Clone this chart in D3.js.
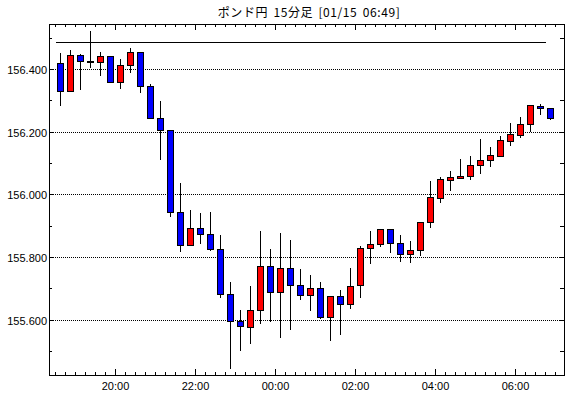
<!DOCTYPE html>
<html><head><meta charset="utf-8">
<script src="https://cdn.jsdelivr.net/npm/d3@7"></script>
<style>body{margin:0;background:#fff;}svg{display:block;}</style>
</head><body>
<svg id="c" width="570" height="398"></svg>
<script>
const title = "ポンド円 15分足 [01/15 06:49]";
const startTime = "2024-01-14T18:30:00";
const opens  = [156.420,156.330,156.446,156.424,156.423,156.442,156.359,156.413,156.455,156.346,
                156.244,156.206,155.945,155.839,155.893,155.874,155.826,155.683,155.597,155.578,
                155.632,155.772,155.689,155.764,155.712,155.680,155.702,155.608,155.677,155.651,
                155.712,155.830,155.842,155.888,155.846,155.811,155.823,155.913,155.989,156.047,
                156.052,156.059,156.094,156.110,156.122,156.171,156.190,156.225,156.283,156.276];
const highs  = [156.454,156.462,156.449,156.523,156.456,156.443,156.433,156.469,156.457,156.353,
                156.300,156.206,156.038,155.952,155.942,155.945,155.871,155.721,155.633,155.710,
                155.886,155.827,155.878,155.856,155.764,155.744,155.722,155.677,155.697,155.767,
                155.837,155.885,155.888,155.888,155.873,155.853,155.913,156.045,156.057,156.076,
                156.115,156.124,156.178,156.153,156.188,156.230,156.248,156.284,156.290,156.276];
const lows   = [156.285,156.327,156.336,156.406,156.380,156.359,156.339,156.390,156.326,156.243,
                156.111,155.929,155.819,155.839,155.844,155.822,155.672,155.445,155.503,155.525,
                155.587,155.594,155.545,155.570,155.666,155.631,155.605,155.535,155.554,155.637,
                155.672,155.781,155.833,155.814,155.787,155.782,155.806,155.895,155.975,156.013,
                156.050,156.048,156.068,156.089,156.120,156.157,156.182,156.200,156.256,156.240];
const closes = [156.330,156.446,156.425,156.423,156.442,156.359,156.413,156.455,156.345,156.243,
                156.206,155.945,155.839,155.893,155.874,155.826,155.683,155.597,155.581,155.632,
                155.772,155.689,155.764,155.712,155.680,155.702,155.608,155.677,155.651,155.708,
                155.830,155.843,155.888,155.846,155.811,155.823,155.913,155.992,156.048,156.054,
                156.060,156.095,156.111,156.124,156.172,156.194,156.226,156.284,156.276,156.244];
const refLine = 156.487;
const yTicks = [155.6, 155.8, 156.0, 156.2, 156.4];
const xTickLabels = ["20:00","22:00","00:00","02:00","04:00","06:00"];

const svg = d3.select("#c");
const L = 49, R = 564, T = 24, B = 375;
const MIN = 60000;
const t0 = new Date(startTime);
const x = d3.scaleTime()
  .domain([new Date(+t0 - 9*MIN), new Date(+t0 + 763.5*MIN)])
  .range([L + 0.5, R + 0.5]);
const y = d3.scaleLinear().domain([155.4255, 156.545]).range([B, T]);
const crisp = v => Math.floor(v) + 0.5;

const data = opens.map((o,i) => ({
  t: new Date(+t0 + (i*15 + 7.5)*MIN), start: new Date(+t0 + i*15*MIN),
  o, h: highs[i], l: lows[i], c: closes[i]
}));

// grid lines (dotted)
svg.append("g").selectAll("line").data(yTicks).join("line")
  .attr("x1", L).attr("x2", R)
  .attr("y1", d => crisp(y(d))).attr("y2", d => crisp(y(d)))
  .attr("stroke", "#000").attr("stroke-dasharray", "1,1").attr("shape-rendering","crispEdges");

// y minor/major ticks (left and right, inward)
const yAll = d3.range(155.5, 156.55, 0.1).map(v => +v.toFixed(1));
const gy = svg.append("g").attr("stroke", "#000").attr("shape-rendering","crispEdges");
yAll.forEach(v => {
  const yy = crisp(y(v));
  const major = yTicks.includes(v);
  gy.append("line").attr("x1", L).attr("x2", L + (major ? 4 : 3)).attr("y1", yy).attr("y2", yy);
  gy.append("line").attr("x1", R - 4).attr("x2", R).attr("y1", yy).attr("y2", yy);
});

// y labels
svg.append("g").selectAll("text").data(yTicks).join("text")
  .attr("x", 47).attr("y", d => crisp(y(d)) + 4)
  .attr("text-anchor", "end").attr("font-family", "Liberation Sans, Arial, sans-serif")
  .attr("font-size", 11).attr("fill", "#000").text(d => d.toFixed(3));

// x ticks: every 15 minutes, major every 2 hours
const tickTimes = d3.range(-2, 52).map(i => new Date(+t0 + i*15*MIN))
  .filter(d => x(d) > L + 1 && x(d) < R - 1);
const gx = svg.append("g").attr("stroke", "#000").attr("shape-rendering","crispEdges");
tickTimes.forEach(d => {
  const xx = crisp(x(d));
  const major = d.getMinutes() === 0 && d.getHours() % 2 === 0;
  const len = major ? 6 : 3;
  gx.append("line").attr("x1", xx).attr("x2", xx).attr("y1", B).attr("y2", B - len);
  gx.append("line").attr("x1", xx).attr("x2", xx).attr("y1", T).attr("y2", T + len);
});
const majorTimes = tickTimes.filter(d => d.getMinutes() === 0 && d.getHours() % 2 === 0);
svg.append("g").selectAll("text").data(majorTimes).join("text")
  .attr("x", d => crisp(x(d))).attr("y", 390)
  .attr("text-anchor", "middle").attr("font-family", "Liberation Sans, Arial, sans-serif")
  .attr("font-size", 11).attr("fill", "#000")
  .text((d,i) => xTickLabels[i]);

// reference line
svg.append("line")
  .attr("x1", crisp(x(data[0].start))).attr("x2", crisp(x(data[data.length-1].start)))
  .attr("y1", crisp(y(refLine))).attr("y2", crisp(y(refLine)))
  .attr("stroke", "#000").attr("shape-rendering","crispEdges");

// candles
const gc = svg.append("g").attr("shape-rendering","crispEdges");
data.forEach(d => {
  const cx = crisp(x(d.t));
  gc.append("line").attr("x1", cx).attr("x2", cx)
    .attr("y1", Math.round(y(d.h))).attr("y2", Math.round(y(d.l)))
    .attr("stroke", "#000").attr("stroke-width", 1);
  const top = crisp(y(Math.max(d.o, d.c)));
  const bot = crisp(y(Math.min(d.o, d.c)));
  gc.append("rect").attr("x", cx - 3).attr("width", 6)
    .attr("y", top).attr("height", Math.max(1, bot - top))
    .attr("fill", d.c > d.o ? "#ff0000" : (d.c < d.o ? "#0000ff" : "#000"))
    .attr("stroke", "#000").attr("stroke-width", 1);
});

// frame
svg.append("rect").attr("x", L + 0.5).attr("y", T + 0.5)
  .attr("width", R - L).attr("height", B - T)
  .attr("fill", "none").attr("stroke", "#000").attr("shape-rendering","crispEdges");

// title
svg.append("text").attr("x", 309).attr("y", 17).attr("text-anchor", "middle")
  .attr("font-family", "Noto Sans CJK JP, sans-serif").attr("font-size", 12)
  .attr("letter-spacing", "0.6px").attr("word-spacing", "2px")
  .attr("fill", "#000").text(title);
</script>
</body></html>
